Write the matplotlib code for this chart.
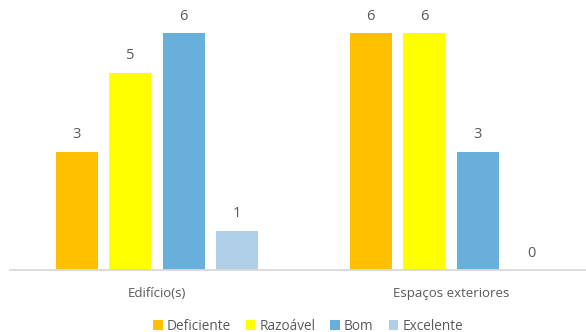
import numpy as np
import matplotlib
matplotlib.use("Agg")
import matplotlib.pyplot as plt

categories = ["Edifício(s)", "Espaços exteriores"]
series = ["Deficiente", "Razoável", "Bom", "Excelente"]
deficiente = [3, 6]
razoavel = [5, 6]
bom = [6, 3]
excelente = [1, 0]
colors = ["#FFC000", "#FFFF00", "#69AFDB", "#B0CFE8"]

plt.rcParams['font.family'] = ['Open Sans', 'DejaVu Sans']
txt = "#595959"

fig = plt.figure(figsize=(5.86, 3.32), dpi=100)
W, H = 586, 332
# axes: baseline at y=270px, from x=10px to right edge
ax = fig.add_axes([10 / W, (H - 270) / H, 576 / W, 270 / H])

step = 53.5 / 294
width = 42 / 294
x = np.arange(len(categories))
vals = [deficiente, razoavel, bom, excelente]
for i, (name, v, c) in enumerate(zip(series, vals, colors)):
    pos = x + (i - 1.5) * step
    bars = ax.bar(pos, v, width, color=c, label=name)
    for p, val in zip(pos, v):
        ax.text(p, val + 0.43, str(val), ha="center", va="center",
                fontsize=10.5, color=txt)

ax.set_xlim(-0.5, -0.5 + 576 / 294)
ax.set_ylim(0, 270 / 39.5)
for s in ["top", "right", "left"]:
    ax.spines[s].set_visible(False)
ax.spines["bottom"].set_color("#D9D9D9")
ax.spines["bottom"].set_linewidth(1.3)
ax.set_yticks([])
ax.set_xticks(x)
ax.set_xticklabels(categories, fontsize=9.5, color=txt)
ax.tick_params(axis="x", length=0, pad=12)

fig.legend(loc="center", bbox_to_anchor=(308 / W, 1 - 326 / H), ncol=4,
           frameon=False, fontsize=9.8, labelcolor=txt, handlelength=0.7,
           handleheight=0.7, handletextpad=0.3, columnspacing=1.1)

fig.savefig("out.png", dpi=100)
